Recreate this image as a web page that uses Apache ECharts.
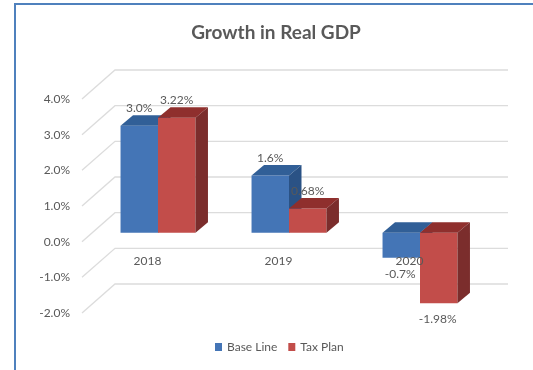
<!DOCTYPE html>
<html>
<head>
<meta charset="utf-8">
<style>html,body{margin:0;padding:0;background:#fff}#chart{width:533px;height:370px}</style>
<script src="https://cdn.jsdelivr.net/npm/echarts@6/dist/echarts.min.js"></script>
</head>
<body>
<div id="chart"></div>
<script>
// Real GDP growth, percent, under each scenario
const years = ['2018', '2019', '2020'];
const baseLine = [3.0, 1.6, -0.7];
const taxPlan = [3.22, 0.68, -1.98];
const baseLineLabels = ['3.0%', '1.6%', '-0.7%'];
const taxPlanLabels = ['3.22%', '0.68%', '-1.98%'];
const axisTicks = [4, 3, 2, 1, 0, -1, -2];

// Oblique projection: the axis sits on the front plane, bars stand behind it
const barShift = [10.5, -9];
const barDepth = [12.5, -10.5];
const wallShift = [33, -29];
const barBandRatio = 0.286;

const blueFaces = { front: '#4475b6', top: '#315f97', side: '#2a5285' };
const redFaces = { front: '#c24d4a', top: '#8f2f2d', side: '#7b2d2c' };
const textColor = '#595959';
const fontFamily = 'Lato';
const fontSize = 12;

function renderBar(faces, labels, side) {
  return function (params, api) {
    const i = api.value(0);
    const v = api.value(1);
    const w = api.size([1, 0])[0] * barBandRatio;
    const base = api.coord([i, 0]);
    const end = api.coord([i, v]);
    const x0 = base[0] + barShift[0] + (side < 0 ? -w : 0);
    const x1 = x0 + w;
    const y0 = base[1] + barShift[1];
    const y1 = end[1] + barShift[1];
    const yTop = Math.min(y0, y1);
    const yBot = Math.max(y0, y1);
    const dx = barDepth[0], dy = barDepth[1];
    const poly = (points, fill) => ({ type: 'polygon', shape: { points }, style: { fill } });
    const labelY = v >= 0 ? yTop + dy - 7 : yBot + 16;
    return {
      type: 'group',
      children: [
        poly([[x0, yTop], [x1, yTop], [x1, yBot], [x0, yBot]], faces.front),
        poly([[x0, yTop], [x1, yTop], [x1 + dx, yTop + dy], [x0 + dx, yTop + dy]], faces.top),
        poly([[x1, yTop], [x1 + dx, yTop + dy], [x1 + dx, yBot + dy], [x1, yBot]], faces.side),
        {
          type: 'text',
          z2: 10,
          style: {
            x: (x0 + x1) / 2 + (v >= 0 ? 0 : -1),
            y: labelY,
            text: labels[i],
            fill: textColor,
            font: fontSize + 'px ' + fontFamily,
            align: 'center',
            verticalAlign: 'middle'
          }
        }
      ]
    };
  };
}

function renderWall(params, api) {
  const cs = params.coordSys;
  const y = api.coord([0, api.value(0)])[1];
  const xa = cs.x + wallShift[0];
  const yb = y + wallShift[1];
  return {
    type: 'polyline',
    shape: { points: [[cs.x, y], [xa, yb], [xa + cs.width, yb]] },
    style: { fill: null, stroke: '#dcdcdc', lineWidth: 1.3 }
  };
}

const chart = echarts.init(document.getElementById('chart'), null, { renderer: 'canvas' });
chart.setOption({
  animation: false,
  backgroundColor: '#ffffff',
  title: {
    text: 'Growth in Real GDP',
    left: 271,
    top: 18,
    textAlign: 'center',
    textStyle: { color: '#595959', fontFamily: fontFamily, fontWeight: 'bold', fontSize: 19 }
  },
  legend: {
    data: ['Base Line', 'Tax Plan'],
    left: 215,
    top: 341,
    padding: 0,
    itemWidth: 7,
    itemHeight: 8,
    itemGap: 11,
    icon: 'rect',
    textStyle: { color: textColor, fontFamily: fontFamily, fontSize: fontSize }
  },
  grid: { left: 82, width: 393, top: 99, height: 214 },
  xAxis: {
    type: 'category',
    data: years,
    z: 6,
    offset: -70,
    axisLine: { show: false, onZero: false },
    axisTick: { show: false },
    axisLabel: { color: textColor, fontFamily: fontFamily, fontSize: fontSize, margin: 12 }
  },
  yAxis: {
    type: 'value',
    min: -2,
    max: 4,
    interval: 1,
    splitLine: { show: false },
    axisLine: { show: false },
    axisTick: { show: false },
    axisLabel: {
      color: textColor,
      fontFamily: fontFamily,
      fontSize: fontSize,
      margin: 12,
      formatter: v => v.toFixed(1) + '%'
    }
  },
  series: [
    {
      type: 'custom',
      name: 'walls',
      silent: true,
      z: 1,
      data: axisTicks.map(t => [t]),
      encode: { y: 0 },
      renderItem: renderWall
    },
    {
      type: 'custom',
      name: 'Base Line',
      z: 2,
      itemStyle: { color: blueFaces.front },
      data: baseLine.map((v, i) => [i, v]),
      encode: { x: 0, y: 1 },
      renderItem: renderBar(blueFaces, baseLineLabels, -1)
    },
    {
      type: 'custom',
      name: 'Tax Plan',
      z: 3,
      itemStyle: { color: redFaces.front },
      data: taxPlan.map((v, i) => [i, v]),
      encode: { x: 0, y: 1 },
      renderItem: renderBar(redFaces, taxPlanLabels, 1)
    }
  ],
  graphic: [
    { type: 'rect', shape: { x: 14, y: 3, width: 2, height: 367 }, style: { fill: '#4f81bd' }, silent: true },
    { type: 'rect', shape: { x: 14, y: 3, width: 519, height: 2 }, style: { fill: '#4f81bd' }, silent: true }
  ]
});
</script>
</body>
</html>
